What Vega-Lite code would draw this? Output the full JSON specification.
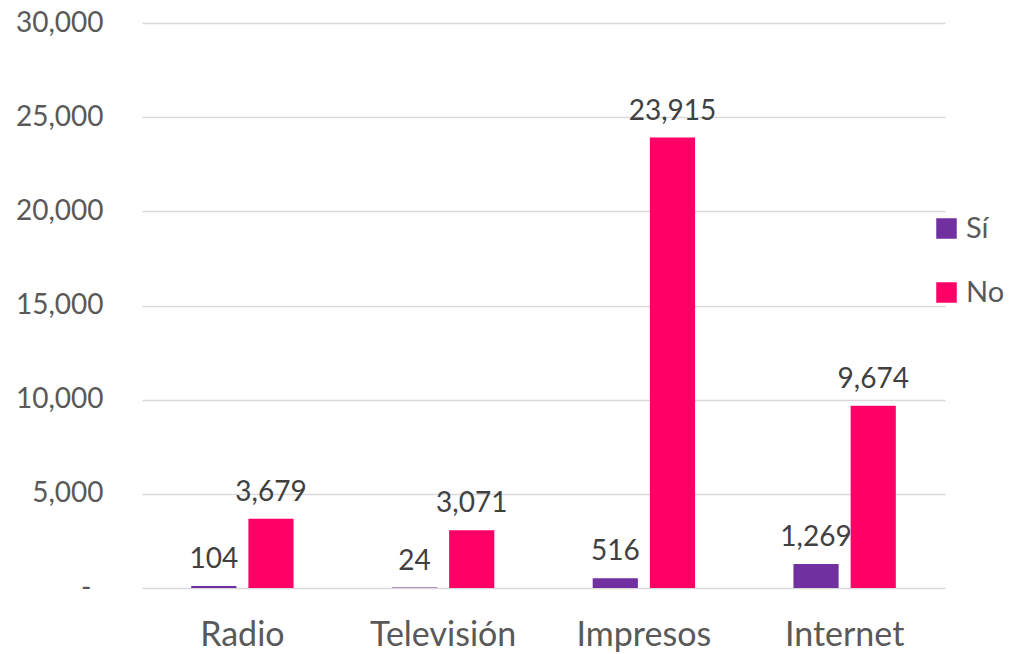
{
  "$schema": "https://vega.github.io/schema/vega-lite/v6.json",
  "width": 803,
  "height": 565,
  "autosize": {"type": "none"},
  "padding": {"left": 142, "top": 23, "right": 65, "bottom": 66},
  "background": "white",
  "config": {"view": {"stroke": null}, "font": "Lato"},
  "data": {
    "values": [
      {"medio": "Radio", "respuesta": "Sí", "valor": 104},
      {"medio": "Radio", "respuesta": "No", "valor": 3679},
      {"medio": "Televisión", "respuesta": "Sí", "valor": 24},
      {"medio": "Televisión", "respuesta": "No", "valor": 3071},
      {"medio": "Impresos", "respuesta": "Sí", "valor": 516},
      {"medio": "Impresos", "respuesta": "No", "valor": 23915},
      {"medio": "Internet", "respuesta": "Sí", "valor": 1269},
      {"medio": "Internet", "respuesta": "No", "valor": 9674}
    ]
  },
  "encoding": {
    "x": {
      "field": "medio", "type": "nominal", "sort": ["Radio", "Televisión", "Impresos", "Internet"],
      "scale": {"paddingInner": 0.49, "paddingOuter": 0.245},
      "axis": {"title": null, "labelAngle": 0, "ticks": false, "domain": false, "labelFontSize": 34, "labelColor": "#595959", "labelPadding": 30, "labelFont": "Lato"}
    },
    "xOffset": {"field": "respuesta", "type": "nominal", "sort": ["Sí", "No"], "scale": {"paddingInner": 0.21, "paddingOuter": 0}},
    "y": {
      "field": "valor", "type": "quantitative",
      "scale": {"domain": [0, 30000], "nice": false},
      "axis": {"title": null, "values": [0, 5000, 10000, 15000, 20000, 25000, 30000], "labelExpr": "datum.value == 0 ? '-' : format(datum.value, ',')", "ticks": false, "domain": false, "grid": true, "gridColor": "#d9d9d9", "gridWidth": 1.5, "labelFontSize": 28, "labelColor": "#595959", "labelPadding": {"condition": {"test": "datum.value === 0", "value": 51}, "value": 39}, "labelFont": "Lato"}
    }
  },
  "layer": [
    {
      "mark": {"type": "bar"},
      "encoding": {
        "color": {
          "field": "respuesta", "type": "nominal", "sort": ["Sí", "No"],
          "scale": {"domain": ["Sí", "No"], "range": ["#7030A0", "#FF0066"]},
          "legend": {"title": null, "orient": "none", "legendX": 790, "legendY": 191, "symbolType": "square", "symbolSize": 420, "symbolStrokeWidth": 0, "labelFontSize": 29, "labelColor": "#595959", "rowPadding": 34, "labelOffset": 5, "labelFont": "Lato"}
        }
      }
    },
    {
      "mark": {"type": "text", "baseline": "bottom", "dy": -12, "fontSize": 28, "color": "#404040", "font": "Lato"},
      "encoding": {"text": {"field": "valor", "type": "quantitative", "format": ","}}
    }
  ]
}
